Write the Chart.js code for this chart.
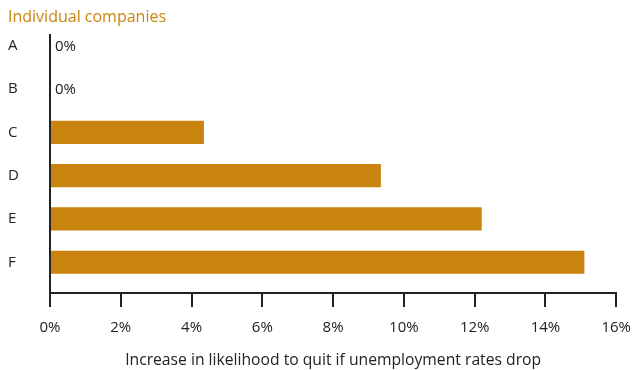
<!DOCTYPE html>
<html>
<head>
<meta charset="utf-8">
<script src="https://cdn.jsdelivr.net/npm/chart.js@4/dist/chart.umd.min.js"></script>
<style>
  html, body { margin: 0; padding: 0; background: #fff; }
  #wrap { width: 643px; height: 370px; }
</style>
</head>
<body>
<div id="wrap"><canvas id="myChart"></canvas></div>
<script>
// datos
var companies = ['A', 'B', 'C', 'D', 'E', 'F'];
var increase = [0, 0, 4.35, 9.35, 12.2, 15.1];
var xTicks = [0, 2, 4, 6, 8, 10, 12, 14, 16];

var naranja = '#c9840f';
var oscuro = '#222222';
var fuente = 'Open Sans';

// etiqueta "0%" para las barras que valen cero
var etiquetaCero = {
	id: 'etiquetaCero',
	afterDatasetsDraw: (chart) => {
		var ctx = chart.ctx;
		var x = chart.scales.x, y = chart.scales.y;
		ctx.save();
		ctx.font = '15px "' + fuente + '"';
		ctx.fillStyle = oscuro;
		ctx.textBaseline = 'middle';
		increase.forEach((v, i) => {
			if (v === 0) {
				ctx.fillText('0%', x.getPixelForValue(v) + 5, y.getPixelForValue(i) + 1);
			}
		});
		ctx.restore();
	}
};

var ctx = document.getElementById('myChart').getContext('2d');
var chart = new Chart(ctx, {
	type: 'bar',
	data: {
		datasets: [{
			data: increase.map((v, i) => ({ x: v, y: i })),
			backgroundColor: naranja,
			barPercentage: 0.535,
			categoryPercentage: 1
		}]
	},
	options: {
		indexAxis: 'y',
		responsive: true,
		maintainAspectRatio: false,
		animation: false,
		layout: { padding: { left: 8, right: 16, top: 0, bottom: 0 } },
		plugins: {
			legend: { display: false },
			tooltip: { enabled: false },
			title: {
				display: true,
				text: 'Individual companies',
				align: 'start',
				color: naranja,
				font: { family: fuente, size: 16, weight: 'normal' },
				padding: { top: 8, bottom: 8 }
			}
		},
		scales: {
			x: {
				type: 'linear',
				min: 0,
				max: 16,
				afterBuildTicks: (scale) => { scale.ticks = xTicks.map(v => ({ value: v })); },
				ticks: {
					color: oscuro,
					padding: 12,
					font: { family: fuente, size: 15 },
					maxRotation: 0,
					callback: (v) => v + '%'
				},
				grid: { drawOnChartArea: false, drawTicks: true, tickLength: 14, color: oscuro, lineWidth: 2 },
				border: { display: true, color: oscuro, width: 2 },
				title: {
					display: true,
					text: 'Increase in likelihood to quit if unemployment rates drop',
					color: oscuro,
					font: { family: fuente, size: 15.7, lineHeight: 1.15 },
					padding: { top: 3, bottom: 0 }
				}
			},
			y: {
				type: 'linear',
				reverse: true,
				offset: false,
				min: -0.244,
				max: 5.709,
				afterBuildTicks: (scale) => { scale.ticks = companies.map((c, i) => ({ value: i })); },
				afterFit: (scale) => { scale.width = 42; },
				ticks: {
					color: oscuro,
					crossAlign: 'far',
					padding: 0,
					font: { family: fuente, size: 15 },
					callback: (v) => companies[v]
				},
				grid: { display: false, drawTicks: false },
				border: { display: true, color: oscuro, width: 2 }
			}
		}
	},
	plugins: [etiquetaCero]
});
</script>
</body>
</html>
